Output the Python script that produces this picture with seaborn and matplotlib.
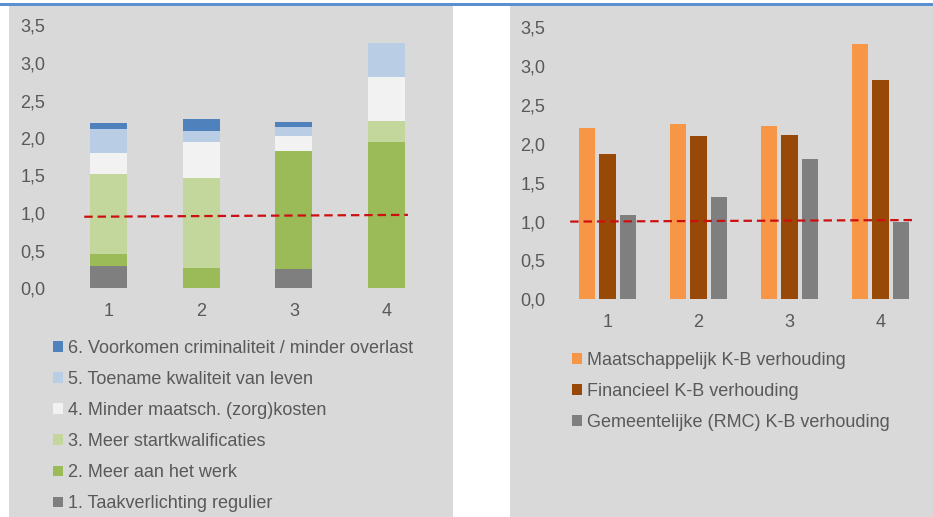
import numpy as np
import pandas as pd
import matplotlib
matplotlib.use("Agg")
import matplotlib.pyplot as plt
from matplotlib.patches import Rectangle
import seaborn as sns

# ---------------- data ----------------
categories = ["1", "2", "3", "4"]
stack_labels = ["1. Taakverlichting regulier", "2. Meer aan het werk",
                "3. Meer startkwalificaties", "4. Minder maatsch. (zorg)kosten",
                "5. Toename kwaliteit van leven",
                "6. Voorkomen criminaliteit / minder overlast"]
taakverlichting = [0.30, 0.00, 0.26, 0.00]
meer_werk = [0.16, 0.27, 1.57, 1.95]
startkwalificaties = [1.06, 1.20, 0.00, 0.28]
zorgkosten = [0.28, 0.48, 0.20, 0.58]
kwaliteit_leven = [0.32, 0.15, 0.12, 0.46]
criminaliteit = [0.08, 0.15, 0.06, 0.00]

ratio_labels = ["Maatschappelijk K-B verhouding", "Financieel K-B verhouding",
                "Gemeentelijke (RMC) K-B verhouding"]
maatschappelijk = [2.20, 2.26, 2.23, 3.28]
financieel = [1.87, 2.10, 2.11, 2.82]
gemeentelijk = [1.09, 1.32, 1.80, 0.99]

ref_left = [0.95, 0.975]
ref_right = [1.00, 1.02]
yticks = [0.0, 0.5, 1.0, 1.5, 2.0, 2.5, 3.0, 3.5]
ytick_labels = ["0,0", "0,5", "1,0", "1,5", "2,0", "2,5", "3,0", "3,5"]

# ---------------- style ----------------
stack_colors = ["#7f7f7f", "#9bbb59", "#c3d69b", "#f2f2f2", "#b9cde5", "#4f81bd"]
ratio_colors = ["#f79646", "#984807", "#7f7f7f"]
bg = "#d9d9d9"
txt = "#595959"
red = "#cc1010"

sns.set_theme(style="white")
plt.rcParams["font.family"] = ["Liberation Sans", "DejaVu Sans"]
FS = 13

W, H = 933, 517
fig = plt.figure(figsize=(W / 100, H / 100), dpi=100)
fig.patch.set_facecolor("white")

def px_rect(x0, y0, x1, y1, color):
    fig.patches.append(Rectangle((x0 / W, 1 - y1 / H), (x1 - x0) / W, (y1 - y0) / H,
                                 transform=fig.transFigure, facecolor=color,
                                 edgecolor="none", zorder=-5))

px_rect(9, 6, 453, 517, bg)
px_rect(510, 6, 933, 517, bg)
px_rect(0, 2.5, 933, 6, "#5b8fd0")

def ax_at(x0, y_top, x1, y_bot):
    ax = fig.add_axes([x0 / W, 1 - y_bot / H, (x1 - x0) / W, (y_bot - y_top) / H])
    ax.set_zorder(2)
    return ax

def style_axes(ax):
    ax.set_facecolor("none")
    ax.patch.set_alpha(0)
    for s in ax.spines.values():
        s.set_visible(False)
    ax.set_ylim(0, 3.5)
    ax.set_xlim(-0.5, 3.5)
    ax.set_yticks(yticks)
    ax.set_yticklabels(ytick_labels)
    ax.tick_params(axis="both", length=0, labelsize=FS, labelcolor=txt)
    ax.tick_params(axis="y", pad=12)
    ax.tick_params(axis="x", pad=10.8)
    ax.set_xlabel("")
    ax.set_ylabel("")
    ax.grid(False)

# ---------------- left: stacked ----------------
axL = ax_at(62, 25.5, 433, 288)
series = [taakverlichting, meer_werk, startkwalificaties, zorgkosten,
          kwaliteit_leven, criminaliteit]
cum = np.cumsum(np.array(series), axis=0)
handlesL = []
for i in range(len(series) - 1, -1, -1):
    df = pd.DataFrame({"cat": categories, "val": cum[i]})
    sns.barplot(data=df, x="cat", y="val", color=stack_colors[i], saturation=1,
                width=0.4, linewidth=0, ax=axL, zorder=2)
    handlesL.append(Rectangle((0, 0), 1, 1, facecolor=stack_colors[i], edgecolor="none"))
axL.plot([-0.26, 3.23], ref_left, color=red, lw=1.6, ls=(0, (3.8, 2.2)), zorder=5)
style_axes(axL)

legL = fig.legend(handlesL, stack_labels[::-1], loc="upper left",
                  bbox_to_anchor=(53 / W, 1 - 340 / H), frameon=False, fontsize=FS,
                  handlelength=0.55, handleheight=0.55, handletextpad=0.3,
                  labelspacing=0.78, borderaxespad=0, borderpad=0)
for t in legL.get_texts():
    t.set_color(txt)

# ---------------- right: grouped ----------------
axR = ax_at(562, 27.3, 926, 299.3)
dfR = pd.DataFrame({
    "cat": categories * 3,
    "val": maatschappelijk + financieel + gemeentelijk,
    "serie": [ratio_labels[0]] * 4 + [ratio_labels[1]] * 4 + [ratio_labels[2]] * 4,
})
sns.barplot(data=dfR, x="cat", y="val", hue="serie", palette=ratio_colors,
            saturation=1, width=0.67, gap=0.21, linewidth=0, ax=axR, legend=False,
            zorder=2)
axR.plot([-0.41, 3.39], ref_right, color=red, lw=1.6, ls=(0, (3.8, 2.2)), zorder=5)
style_axes(axR)
handlesR = [Rectangle((0, 0), 1, 1, facecolor=c, edgecolor="none") for c in ratio_colors]
legR = fig.legend(handlesR, ratio_labels, loc="upper left",
                  bbox_to_anchor=(572 / W, 1 - 352 / H), frameon=False, fontsize=FS,
                  handlelength=0.55, handleheight=0.55, handletextpad=0.3,
                  labelspacing=0.78, borderaxespad=0, borderpad=0)
for t in legR.get_texts():
    t.set_color(txt)

fig.savefig("out.png", dpi=100, facecolor="white")
